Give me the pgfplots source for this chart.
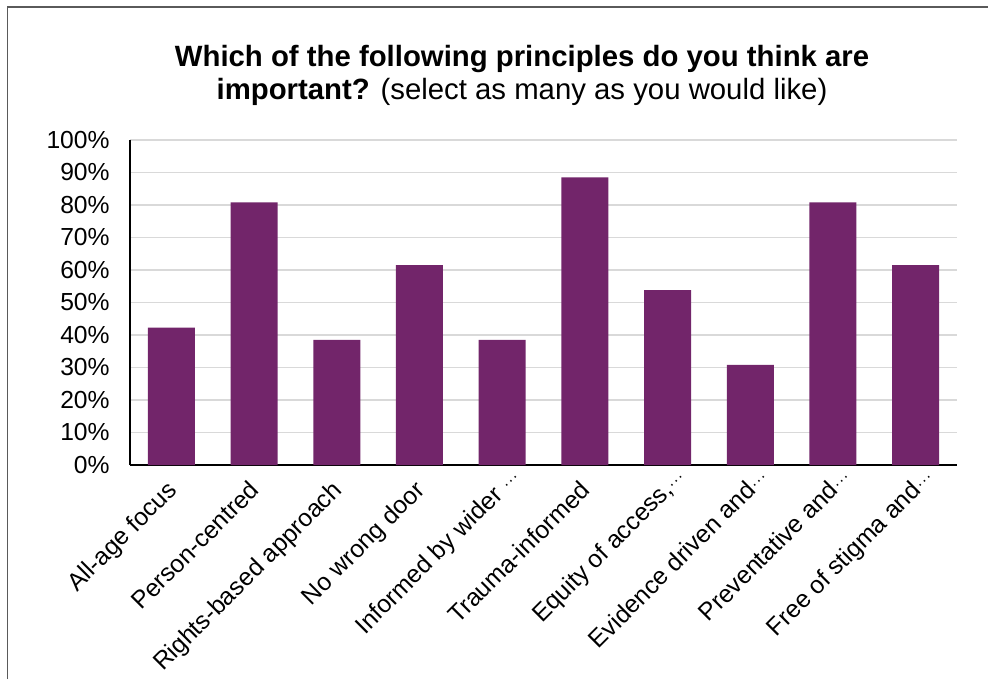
\documentclass[border=0pt]{standalone}
\usepackage{fontspec}
\setmainfont{Liberation Sans}
\usepackage{pgfplots}
\pgfplotsset{compat=1.18}
\definecolor{barpurple}{RGB}{114,37,106}
\definecolor{gridgray}{RGB}{217,217,217}
\definecolor{framegray}{RGB}{90,90,90}
\newcommand{\el}{\rlap{\raisebox{0.2em}{\fontsize{12}{12}\selectfont\kern0.5pt.\kern1.2pt.\kern1.2pt.}}}
\begin{document}
\begin{tikzpicture}[x=1pt,y=1pt]
\useasboundingbox (0,0) rectangle (741,509.25);
\draw[framegray, line width=0.9pt] (5.6,0) -- (5.6,504) -- (741,504);
\node[font=\fontsize{22}{26}\selectfont\bfseries, anchor=base] at (391.5,459) {Which of the following principles do you think are};
\node[font=\fontsize{22}{26}\selectfont, anchor=base] at (391.5,434.25) {\textbf{important?} (select as many as you would like)};
\begin{axis}[
  at={(97.5pt,160.5pt)}, anchor=south west,
  scale only axis, width=620.25pt, height=243.75pt,
  xmin=-0.5, xmax=9.5, ymin=0, ymax=100,
  ytick={0,10,...,100},
  yticklabel={\pgfmathprintnumber{\tick}\%},
  /pgf/number format/assume math mode=true,
  ymajorgrids, grid style={gridgray, line width=1pt},
  axis x line*=bottom, axis y line*=left,
  axis line style={black, line width=0.9pt},
  x axis line style={-}, y axis line style={-},
  major tick length=0pt,
  xtick=data,
  xticklabels={All-age focus, Person-centred, Rights-based approach, No wrong door, Informed by wider \el, Trauma-informed, {Equity of access,\el}, Evidence driven and\el, Preventative and\el, Free of stigma and\el},
  xticklabel style={font=\fontsize{18.5}{20}\selectfont, xshift=-4.5pt, yshift=-5.5pt, rotate=45, anchor=north east},
  yticklabel style={font=\fontsize{18.5}{20}\selectfont, xshift=-11.75pt},
  tick style={draw=none},
]
\addplot[ybar, bar width=35.25pt, fill=barpurple, draw=none] coordinates {
(0,42.3) (1,80.8) (2,38.5) (3,61.5) (4,38.5) (5,88.5) (6,53.8) (7,30.8) (8,80.8) (9,61.5)};
\end{axis}
\end{tikzpicture}
\end{document}
